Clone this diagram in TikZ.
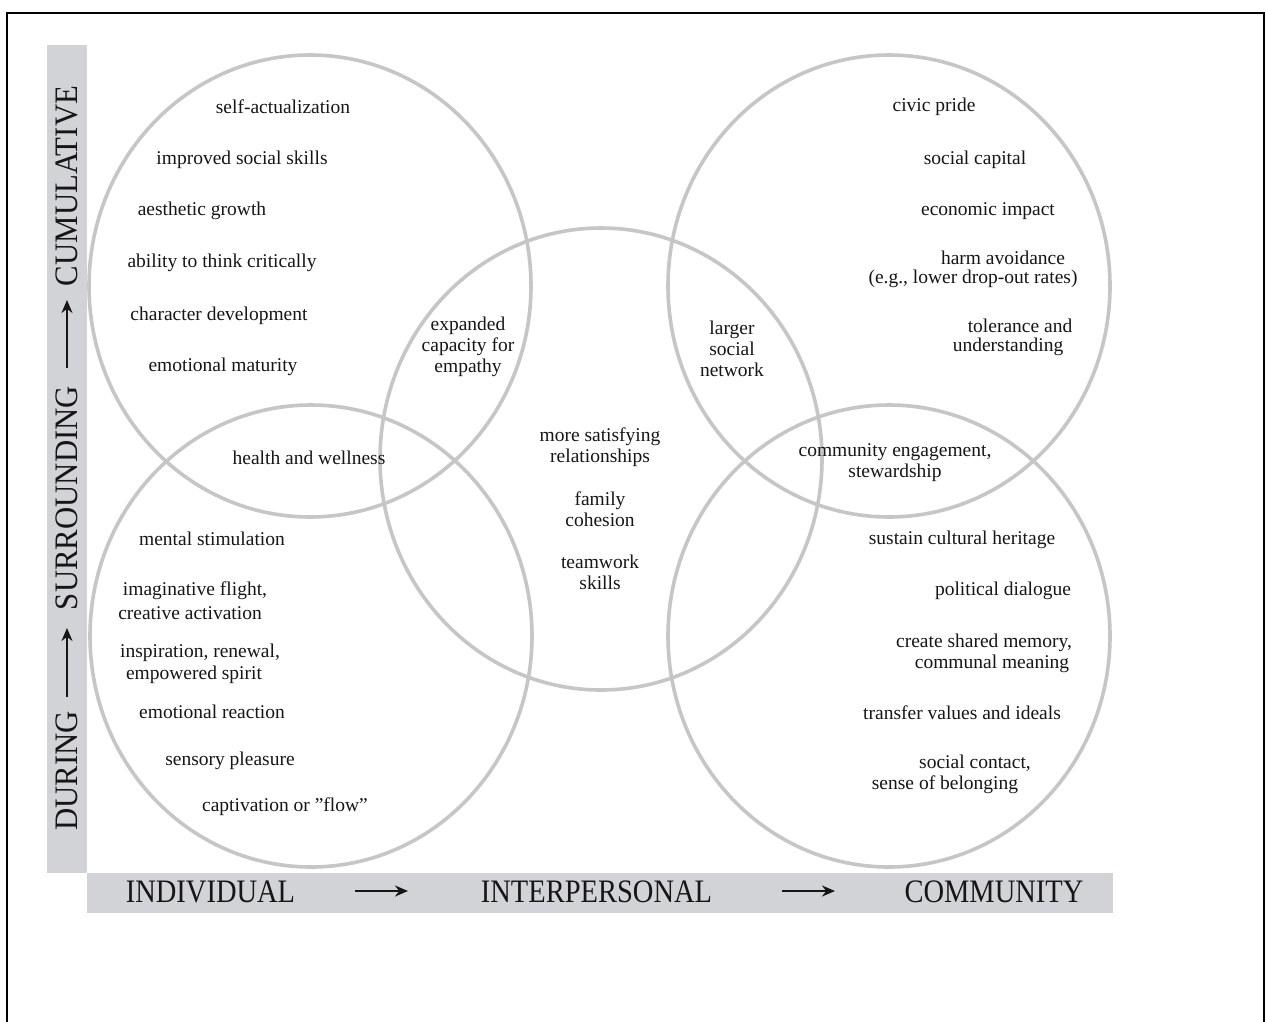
\documentclass[tikz,border=0pt]{standalone}
\usepackage{fontspec}
\setmainfont{Liberation Serif}
\usetikzlibrary{arrows.meta}
\definecolor{ringc}{RGB}{198,198,198}
\definecolor{barc}{RGB}{210,211,214}
\definecolor{ink}{RGB}{22,22,22}
\newcommand{\hax}[1]{\scalebox{1}[1.15]{#1}}
\newcommand{\vax}[1]{\scalebox{1.08}[1.15]{#1}}
\begin{document}
\begin{tikzpicture}[x=1pt,y=-1pt,
  ring/.style={draw=ringc,line width=3.6pt},
  lbl/.style={text=ink,font=\fontsize{19.5}{21}\selectfont,inner sep=0pt,align=center},
  axis/.style={text=ink,font=\fontsize{28.5}{30}\selectfont,inner sep=0pt},
  axarrow/.style={draw=ink,line width=2.4pt,-{Stealth[length=13pt,width=11pt]}}]
\useasboundingbox (0,0) rectangle (1266,1021);
\fill[white] (0,0) rectangle (1266,1021);
\draw[black,line width=2pt] (7,1030) -- (7,13) -- (1264,13) -- (1264,1030);
% bars
\fill[barc] (47,45) rectangle (87,873);
\fill[barc] (87,873) rectangle (1113,913);
% circles
\draw[ring] (310,286) ellipse [x radius=221pt,y radius=231pt];
\draw[ring] (311,636) ellipse [x radius=221pt,y radius=231pt];
\draw[ring] (601,459) ellipse [x radius=221pt,y radius=231pt];
\draw[ring] (889,286) ellipse [x radius=221pt,y radius=231pt];
\draw[ring] (889,636) ellipse [x radius=221pt,y radius=231pt];
% axis labels
\node[axis,rotate=90] (cum) at (67,186) {\vax{CUMULATIVE}};
\node[axis,rotate=90] (sur) at (67,498) {\vax{SURROUNDING}};
\node[axis,rotate=90] (dur) at (67,771) {\vax{DURING}};
\coordinate (v1s) at (67,368);
\coordinate (v1e) at (67,300);
\coordinate (v2s) at (67,697);
\coordinate (v2e) at (67,628);
\draw[axarrow] (v1s) -- (v1e);
\draw[axarrow] (v2s) -- (v2e);
\node[axis,anchor=base] (ind) at (210.5,902) {\hax{INDIVIDUAL}};
\node[axis,anchor=base] (int) at (596.5,902) {\hax{INTERPERSONAL}};
\node[axis,anchor=base] (com) at (994,902) {\hax{COMMUNITY}};
\coordinate (h1s) at (355,891);
\coordinate (h1e) at (408,891);
\coordinate (h2s) at (782,891);
\coordinate (h2e) at (835,891);
\draw[axarrow] (h1s) -- (h1e);
\draw[axarrow] (h2s) -- (h2e);
% top-left circle
\node[lbl] (t1) at (283,107) {self-actualization};
\node[lbl] (t2) at (242,160) {improved social skills};
\node[lbl] (t3) at (202,211) {aesthetic growth};
\node[lbl] (t4) at (222,263) {ability to think critically};
\node[lbl] (t5) at (219,316) {character development};
\node[lbl] (t6) at (223,367) {emotional maturity};
% overlaps
\node[lbl] (emp) at (468,347) {expanded\\capacity for\\empathy};
\node[lbl] (hw) at (309,458) {health and wellness};
\node[lbl] (net) at (732,349) {larger\\social\\network};
\node[lbl] (ce) at (895,463) {community engagement,\\stewardship};
% center
\node[lbl] (c1) at (600,447) {more satisfying\\relationships};
\node[lbl] (c2) at (600,509) {family\\cohesion};
\node[lbl] (c3) at (600,572) {teamwork\\skills};
% top-right
\node[lbl] (r1) at (934,107) {civic pride};
\node[lbl] (r2) at (975,160) {social capital};
\node[lbl] (r3) at (988,211) {economic impact};
\node[lbl] (r4a) at (1003,258) {harm avoidance};
\node[lbl] (r4b) at (973,279) {(e.g., lower drop-out rates)};
\node[lbl] (r5a) at (1020,326) {tolerance and};
\node[lbl] (r5b) at (1008,347) {understanding};
% bottom-right
\node[lbl] (b1) at (962,540) {sustain cultural heritage};
\node[lbl] (b2) at (1003,591) {political dialogue};
\node[lbl] (b3a) at (984,643) {create shared memory,};
\node[lbl] (b3b) at (992,664) {communal meaning};
\node[lbl] (b4) at (962,713) {transfer values and ideals};
\node[lbl] (b5a) at (975,763) {social contact,};
\node[lbl] (b5b) at (945,785) {sense of belonging};
% bottom-left
\node[lbl] (l1) at (212,539) {mental stimulation};
\node[lbl] (l2a) at (195,591) {imaginative flight,};
\node[lbl] (l2b) at (190,613) {creative activation};
\node[lbl] (l3a) at (200,653) {inspiration, renewal,};
\node[lbl] (l3b) at (194,675) {empowered spirit};
\node[lbl] (l4) at (212,712) {emotional reaction};
\node[lbl] (l5) at (230,761) {sensory pleasure};
\node[lbl] (l6) at (285,807) {captivation or "flow"};
\end{tikzpicture}
\end{document}
